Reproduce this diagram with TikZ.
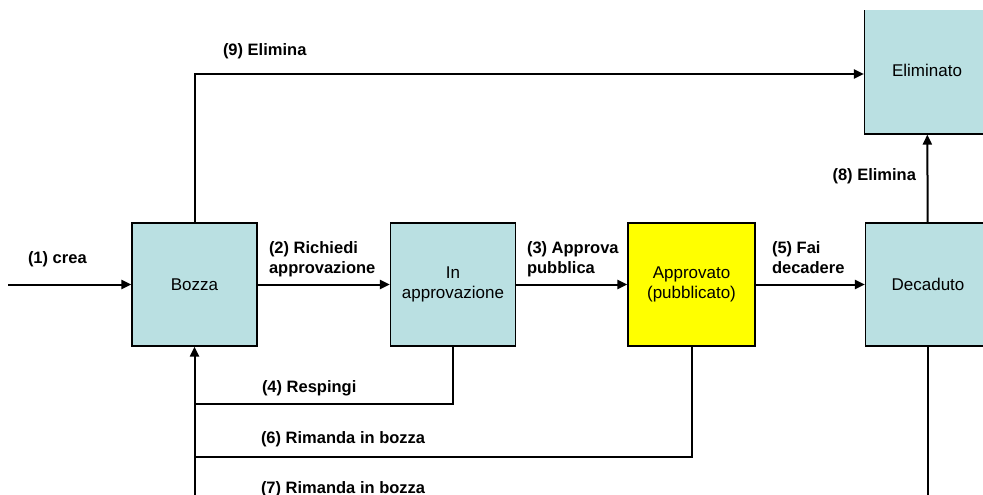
\documentclass[tikz,border=0pt]{standalone}
\usepackage{fontspec}
\setmainfont{Liberation Sans}
\usetikzlibrary{arrows.meta}
\definecolor{statoblu}{RGB}{186,224,226}
\definecolor{statogiallo}{RGB}{255,255,0}

\begin{document}
\begin{tikzpicture}[x=1pt, y=-1pt, line width=2pt,
stato/.style={draw, line width=1.2pt, fill=statoblu, minimum width=125pt, minimum height=123pt, inner sep=0pt, align=center, font=\fontsize{17}{20}\selectfont},
azione/.style={inner sep=0pt, align=left, font=\bfseries\fontsize{16.5}{19.5}\selectfont},
>={Triangle[length=10pt,width=9pt]}]

\useasboundingbox (0,0) rectangle (983,495);
\clip (0,11) rectangle (983,495);

\node[stato] (bozza) at (194.5,284.5) {Bozza};
\node[stato] (inapp) at (453,284.5) {In\\approvazione};
\node[stato, fill=statogiallo, minimum width=127pt] (approv) at (691.5,284.5) {Approvato\\(pubblicato)};
\node[stato] (decad) at (928,284.5) {Decaduto};
\node[stato, minimum height=128pt] (elim) at (927,70) {Eliminato};

\coordinate (ingresso) at (8,284.5);
\coordinate (r4) at (194.5,404);
\coordinate (r6) at (194.5,457);
\coordinate (r7) at (194.5,515);

\draw[->] (ingresso) -- (bozza);
\draw[->] (bozza) -- (inapp);
\draw[->] (inapp) -- (approv);
\draw[->] (approv) -- (decad);
\draw[->] (decad) -- (elim);
\draw[->] (bozza) |- ([yshift=-4pt]elim.west);

\draw (inapp) |- (r4);
\draw (approv) |- (r6);
\draw[->] (decad) |- (r7) -- (bozza);

\node[azione, anchor=base west] (l1) at (27,263) {(1) crea};
\node[azione, anchor=base west] (l2) at (268,273) {(2) Richiedi\\approvazione};
\node[azione, anchor=base west] (l3) at (526,273) {(3) Approva\\pubblica};
\node[azione, anchor=base west] (l4) at (261,392) {(4) Respingi};
\node[azione, anchor=base west] (l5) at (771,273) {(5) Fai\\decadere};
\node[azione, anchor=base west] (l6) at (260,443) {(6) Rimanda in bozza};
\node[azione, anchor=base west] (l7) at (260,493) {(7) Rimanda in bozza};
\node[azione, anchor=base east] (l8) at (917,180) {(8) Elimina};
\node[azione, anchor=base west] (l9) at (222,56) {(9) Elimina};
\end{tikzpicture}
\end{document}
